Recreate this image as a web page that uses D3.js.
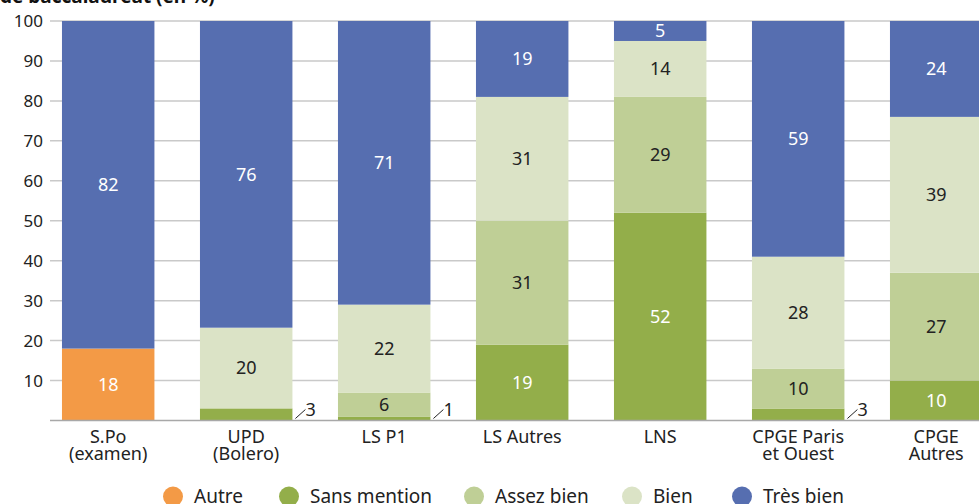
<!DOCTYPE html>
<html>
<head>
<meta charset="utf-8">
<script src="https://cdn.jsdelivr.net/npm/d3@7"></script>
<style>
  html, body { margin: 0; padding: 0; background: #fff; }
  svg { display: block; font-family: "Noto Sans", "Open Sans", sans-serif; }
</style>
</head>
<body>
<svg id="chart" width="979" height="504"></svg>
<script>
// ---- data ----
const categories = [["S.Po", "(examen)"], ["UPD", "(Bolero)"], ["LS P1"], ["LS Autres"], ["LNS"], ["CPGE Paris", "et Ouest"], ["CPGE", "Autres"]];
const seriesNames = ["Autre", "Sans mention", "Assez bien", "Bien", "Très bien"];
const autre       = [18, 0, 0, 0, 0, 0, 0];
const sansMention = [0, 3, 1, 19, 52, 3, 10];
const assezBien   = [0, 0, 6, 31, 29, 10, 27];
const bien        = [0, 20, 22, 31, 14, 28, 39];
const tresBien    = [82, 76, 71, 19, 5, 59, 24];
const yTicks = [10, 20, 30, 40, 50, 60, 70, 80, 90, 100];
const titleText = "de baccalauréat (en %)";

const colors = ["#F39A46", "#93AE4A", "#BFCF96", "#DBE3C6", "#566EB0"];
const labelColors = ["#ffffff", "#ffffff", "#222222", "#222222", "#ffffff"];

const seriesValues = [autre, sansMention, assezBien, bien, tresBien];
const keys = categories.map(c => c.join(" "));
const rows = keys.map((k, i) => {
  const r = { key: k };
  seriesNames.forEach((s, j) => r[s] = seriesValues[j][i]);
  return r;
});

const svg = d3.select("#chart");
const y0 = 420.5, y100 = 21;
const y = d3.scaleLinear().domain([0, 100]).range([y0, y100]);
const x = d3.scaleBand().domain(keys).range([39.2, 1005.2]).paddingInner(0.33).paddingOuter(0.165);

// title (mostly clipped)
svg.append("text").attr("x", 0).attr("y", 3).attr("font-weight", "bold").attr("font-size", 19)
  .attr("fill", "#111").text(titleText);

// gridlines
svg.append("g").selectAll("line").data(yTicks).join("line")
  .attr("x1", 50).attr("x2", 979)
  .attr("y1", d => y(d)).attr("y2", d => y(d))
  .attr("stroke", "#c9c9c9").attr("stroke-width", 1.5);

// y labels
svg.append("g").selectAll("text").data(yTicks).join("text")
  .attr("x", 43).attr("y", d => y(d)).attr("dy", "0.35em")
  .attr("text-anchor", "end").attr("font-size", 17).attr("fill", "#222")
  .text(d => d);

// stacks
const stack = d3.stack().keys(seriesNames).offset(d3.stackOffsetExpand);
const stacked = stack(rows);

const g = svg.append("g");
stacked.forEach((layer, si) => {
  g.append("g").selectAll("rect").data(layer).join("rect")
    .attr("x", d => x(d.data.key))
    .attr("width", x.bandwidth())
    .attr("y", d => y(d[1] * 100))
    .attr("height", d => y(d[0] * 100) - y(d[1] * 100))
    .attr("fill", colors[si]);
});

// baseline
svg.append("line").attr("x1", 50).attr("x2", 979).attr("y1", y0).attr("y2", y0)
  .attr("stroke", "#a8a8a8").attr("stroke-width", 1.5);

// value labels
stacked.forEach((layer, si) => {
  layer.forEach((d, i) => {
    const v = seriesValues[si][i];
    if (!v) return;
    if (v >= 5) {
      svg.append("text")
        .attr("x", x(d.data.key) + x.bandwidth() / 2)
        .attr("y", (y(d[0] * 100) + y(d[1] * 100)) / 2)
        .attr("dy", "0.35em").attr("text-anchor", "middle")
        .attr("font-size", 18).attr("fill", labelColors[si]).text(v);
    } else {
      const xr = x(d.data.key) + x.bandwidth();
      svg.append("line")
        .attr("x1", xr + 3).attr("y1", y0 - 2)
        .attr("x2", xr + 13).attr("y2", y0 - 11)
        .attr("stroke", "#222").attr("stroke-width", 1);
      svg.append("text").attr("x", xr + 13).attr("y", y0 - 5)
        .attr("font-size", 18).attr("fill", "#222").text(v);
    }
  });
});

// category labels
categories.forEach((c, i) => {
  const cx = x(keys[i]) + x.bandwidth() / 2;
  c.forEach((line, li) => {
    svg.append("text").attr("x", cx).attr("y", 442.5 + li * 17.5)
      .attr("text-anchor", "middle").attr("font-size", 18).attr("fill", "#222").text(line);
  });
});

// legend
const legendX = [173, 289, 474, 632, 742];
const legend = svg.append("g");
seriesNames.forEach((s, i) => {
  legend.append("circle").attr("cx", legendX[i]).attr("cy", 496.5).attr("r", 10).attr("fill", colors[i]);
  legend.append("text").attr("x", legendX[i] + 21).attr("y", 502.5)
    .attr("font-size", 19).attr("fill", "#222").text(s);
});
</script>
</body>
</html>
